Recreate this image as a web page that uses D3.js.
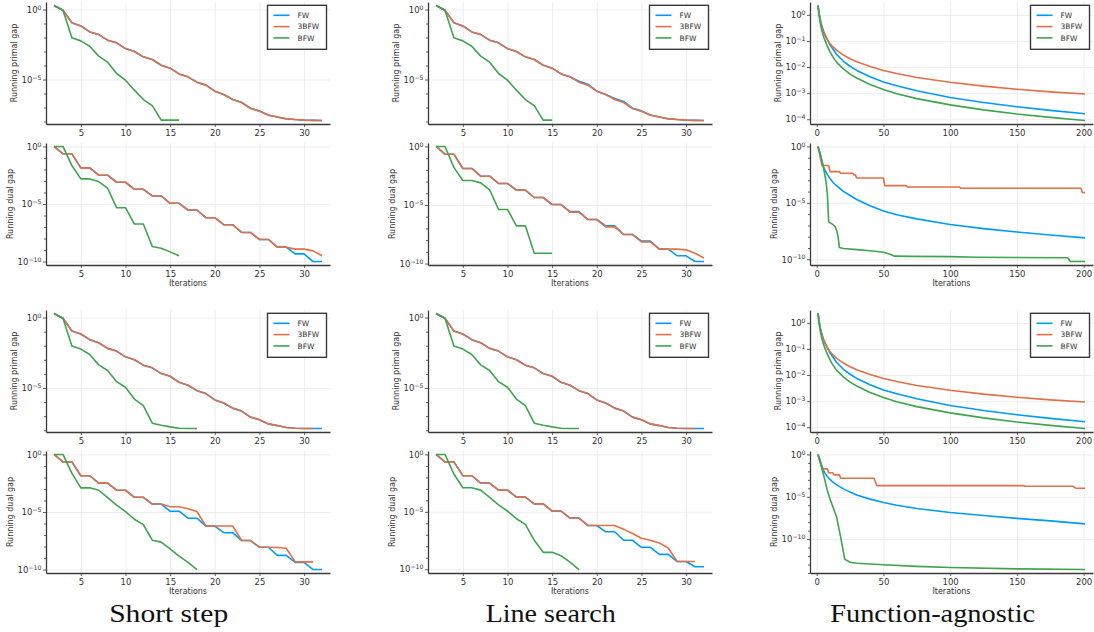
<!DOCTYPE html>
<html>
<head>
<meta charset="utf-8">
<script src="https://cdn.jsdelivr.net/npm/d3@7"></script>
<style>
    body { margin: 0; background: #fff; }
</style>
</head>
<body>
<svg id="chart" width="1094" height="632"></svg>
<script>
// values are log10 of the gap
const seriesNames = ['FW', '3BFW', 'BFW'];
const seriesColors = ['#009af9', '#e26f46', '#3ea44e'];
const columnTitles = ['Short step', 'Line search', 'Function-agnostic'];

const iterations = d3.range(2, 33);
const shortXTicks = [5, 10, 15, 20, 25, 30];
const agnosticXTicks = [0, 50, 100, 150, 200];
const primalMajor = [0, -5];
const dualMajor = [0, -5, -10];
const agnosticPrimalMajor = [0, -1, -2, -3, -4];

// Short step, first pair
const shortPrimalFW_1 = [0.29, -0.05, -0.95, -1.17, -1.6, -1.79, -2.19, -2.38, -2.79, -3.0, -3.38, -3.57, -3.98, -4.19, -4.6, -4.81, -5.19, -5.4, -5.83, -6.07, -6.43, -6.64, -7.05, -7.24, -7.53, -7.67, -7.8, -7.86, -7.9, -7.92, -7.93];
const shortPrimal3BFW_1 = [0.29, -0.05, -0.95, -1.17, -1.6, -1.79, -2.19, -2.38, -2.79, -3.0, -3.38, -3.57, -3.98, -4.19, -4.6, -4.81, -5.19, -5.4, -5.83, -6.07, -6.43, -6.64, -7.07, -7.26, -7.55, -7.67, -7.81, -7.86, -7.9, -7.92, -7.93];
const shortPrimalBFW_1 = [0.29, -0.05, -2.02, -2.24, -2.62, -3.33, -3.76, -4.57, -5.05, -5.76, -6.43, -6.86, -7.9, -7.9, -7.9];
const shortDualFW_1 = [0, -0.64, -0.64, -1.86, -1.86, -2.5, -2.5, -3.11, -3.11, -3.72, -3.72, -4.3, -4.3, -4.94, -4.94, -5.52, -5.52, -6.19, -6.19, -6.8, -6.8, -7.47, -7.47, -8.08, -8.08, -8.75, -8.75, -9.33, -9.33, -10, -10];
const shortDual3BFW_1 = [0, -0.64, -0.64, -1.86, -1.86, -2.5, -2.5, -3.11, -3.11, -3.72, -3.72, -4.3, -4.3, -4.94, -4.94, -5.52, -5.52, -6.19, -6.19, -6.8, -6.8, -7.47, -7.47, -8.08, -8.08, -8.75, -8.75, -8.92, -8.92, -9.07, -9.5];
const shortDualBFW_1 = [0, 0, -1.66, -2.82, -2.82, -3.05, -3.63, -5.32, -5.32, -6.74, -6.74, -8.69, -8.84, -9.16, -9.5];

// Line search, first pair
const lineSearchPrimalFW_1 = [0.29, -0.05, -0.95, -1.17, -1.6, -1.79, -2.19, -2.38, -2.79, -3.0, -3.38, -3.57, -3.98, -4.19, -4.6, -4.81, -5.12, -5.33, -5.83, -6.07, -6.36, -6.57, -7.05, -7.24, -7.53, -7.67, -7.8, -7.86, -7.9, -7.92, -7.93];
const lineSearchPrimal3BFW_1 = [0.29, -0.05, -0.95, -1.17, -1.6, -1.79, -2.19, -2.38, -2.79, -3.0, -3.38, -3.57, -3.98, -4.19, -4.6, -4.81, -5.19, -5.4, -5.83, -6.07, -6.43, -6.64, -7.07, -7.26, -7.55, -7.67, -7.81, -7.86, -7.9, -7.92, -7.93];
const lineSearchPrimalBFW_1 = [0.29, -0.05, -2.02, -2.24, -2.62, -3.33, -3.76, -4.57, -5.05, -5.76, -6.43, -6.86, -7.9, -7.9];
const lineSearchDualFW_1 = [0, -0.66, -0.66, -1.88, -1.88, -2.54, -2.54, -3.16, -3.16, -3.73, -3.73, -4.36, -4.36, -4.96, -4.96, -5.56, -5.56, -6.24, -6.24, -6.78, -6.78, -7.52, -7.52, -8.09, -8.09, -8.77, -8.77, -9.34, -9.34, -9.83, -9.83];
const lineSearchDual3BFW_1 = [0, -0.66, -0.66, -1.88, -1.88, -2.54, -2.54, -3.16, -3.16, -3.73, -3.73, -4.36, -4.36, -4.96, -4.96, -5.61, -5.61, -6.24, -6.24, -6.87, -6.87, -7.52, -7.52, -8.15, -8.15, -8.77, -8.77, -8.77, -8.83, -9.12, -9.52];
const lineSearchDualBFW_1 = [0, 0, -1.79, -2.91, -2.91, -3.11, -3.7, -5.38, -5.38, -6.78, -6.78, -9.12, -9.12, -9.12];

// Short step, second pair
const shortPrimalFW_2 = [0.29, -0.05, -0.95, -1.17, -1.57, -1.79, -2.19, -2.38, -2.79, -3.0, -3.38, -3.57, -3.98, -4.17, -4.6, -4.81, -5.19, -5.4, -5.85, -6.07, -6.43, -6.64, -7.07, -7.26, -7.55, -7.67, -7.81, -7.86, -7.88, -7.88, -7.88];
const shortPrimal3BFW_2 = [0.29, -0.05, -0.95, -1.17, -1.57, -1.79, -2.19, -2.38, -2.79, -3.0, -3.38, -3.57, -3.98, -4.17, -4.6, -4.81, -5.19, -5.4, -5.85, -6.07, -6.43, -6.64, -7.07, -7.26, -7.55, -7.67, -7.81, -7.86, -7.88, -7.88];
const shortPrimalBFW_2 = [0.29, -0.05, -2.02, -2.24, -2.62, -3.36, -3.76, -4.55, -4.95, -5.79, -6.26, -7.5, -7.64, -7.76, -7.86, -7.88, -7.88];
const shortDualFW_2 = [0, -0.65, -0.65, -1.85, -1.85, -2.49, -2.49, -3.11, -3.11, -3.72, -3.72, -4.31, -4.31, -4.93, -4.93, -5.54, -5.54, -6.22, -6.22, -6.8, -6.8, -7.48, -7.48, -8.06, -8.06, -8.77, -8.77, -9.38, -9.38, -10, -10];
const shortDual3BFW_2 = [0, -0.65, -0.65, -1.85, -1.85, -2.49, -2.49, -3.11, -3.11, -3.72, -3.72, -4.31, -4.31, -4.55, -4.55, -4.72, -4.96, -6.22, -6.22, -6.22, -6.22, -7.48, -7.48, -8.06, -8.06, -8.08, -8.15, -9.33, -9.33, -9.33];
const shortDualBFW_2 = [0, 0, -1.64, -2.9, -2.9, -3.11, -3.75, -4.4, -4.96, -5.63, -6.1, -7.45, -7.62, -8.21, -8.83, -9.38, -10];

// Line search, second pair
const lineSearchPrimalFW_2 = [0.29, -0.05, -0.95, -1.17, -1.57, -1.79, -2.19, -2.38, -2.79, -3.0, -3.38, -3.57, -3.98, -4.17, -4.6, -4.81, -5.19, -5.4, -5.85, -6.07, -6.43, -6.64, -7.07, -7.26, -7.55, -7.67, -7.81, -7.86, -7.88, -7.88, -7.88];
const lineSearchPrimal3BFW_2 = [0.29, -0.05, -0.95, -1.17, -1.57, -1.79, -2.19, -2.38, -2.79, -3.0, -3.38, -3.57, -3.98, -4.17, -4.6, -4.81, -5.19, -5.4, -5.85, -6.07, -6.43, -6.64, -7.07, -7.26, -7.55, -7.67, -7.81, -7.86, -7.88, -7.88];
const lineSearchPrimalBFW_2 = [0.29, -0.05, -2.02, -2.24, -2.62, -3.36, -3.76, -4.55, -4.95, -5.79, -6.26, -7.5, -7.64, -7.76, -7.86, -7.88, -7.88];
const lineSearchDualFW_2 = [0, -0.65, -0.65, -1.85, -1.85, -2.49, -2.49, -3.11, -3.11, -3.72, -3.72, -4.31, -4.31, -4.93, -4.93, -5.54, -5.54, -6.19, -6.19, -6.74, -6.74, -7.48, -7.48, -8.09, -8.09, -8.71, -8.71, -9.33, -9.33, -9.79, -9.79];
const lineSearchDual3BFW_2 = [0, -0.65, -0.65, -1.85, -1.85, -2.49, -2.49, -3.11, -3.11, -3.72, -3.72, -4.31, -4.31, -4.93, -4.93, -5.54, -5.54, -6.19, -6.19, -6.19, -6.19, -6.51, -6.89, -7.3, -7.48, -7.71, -8.15, -9.33, -9.33, -9.33];
const lineSearchDualBFW_2 = [0, 0, -1.7, -2.9, -2.9, -3.11, -3.75, -4.4, -4.93, -5.6, -6.1, -7.48, -8.53, -8.53, -8.83, -9.38, -10.03];

// Function-agnostic (same primal curves in both pairs)
const agnosticIters = [1, 2, 3, 4, 5, 6, 8, 10, 12, 15, 20, 25, 30, 40, 50, 60, 75, 100, 125, 150, 175, 201];
const agnosticPrimalFW = [0.36, 0.02, -0.25, -0.45, -0.6, -0.73, -0.95, -1.15, -1.3, -1.52, -1.78, -1.97, -2.13, -2.37, -2.57, -2.72, -2.91, -3.17, -3.36, -3.52, -3.66, -3.79];
const agnosticPrimal3BFW = [0.36, -0.02, -0.3, -0.5, -0.64, -0.76, -0.96, -1.1, -1.22, -1.36, -1.54, -1.68, -1.8, -1.98, -2.13, -2.25, -2.4, -2.58, -2.73, -2.85, -2.95, -3.03];
const agnosticPrimalBFW = [0.36, -0.1, -0.4, -0.62, -0.8, -0.95, -1.2, -1.42, -1.6, -1.82, -2.07, -2.27, -2.42, -2.67, -2.86, -3.02, -3.21, -3.45, -3.64, -3.8, -3.93, -4.05];

const agnosticDualFW_1 = [0, -0.35, -0.8, -1.3, -1.75, -2.05, -2.5, -2.85, -3.15, -3.5, -3.98, -4.35, -4.7, -5.25, -5.72, -6.05, -6.42, -6.92, -7.28, -7.58, -7.85, -8.1];
const agnosticDual3BFWIters_1 = [1, 4, 9, 10, 17, 18, 27, 28, 29, 30, 50, 51, 67, 68, 107, 108, 198, 199, 201];
const agnosticDual3BFW_1 = [0, -1.69, -1.69, -2.23, -2.23, -2.37, -2.37, -2.52, -2.52, -2.79, -2.79, -3.47, -3.47, -3.59, -3.59, -3.71, -3.71, -4.07, -4.1];
const agnosticDualBFWIters_1 = [1, 3, 5, 7, 8, 9, 10, 12, 14, 15, 16, 17, 20, 30, 40, 50, 55, 58, 70, 100, 120, 150, 188, 190, 201];
const agnosticDualBFW_1 = [0, -0.9, -1.84, -3.1, -4.2, -6.68, -6.75, -6.9, -7.15, -7.45, -7.95, -8.96, -9.05, -9.14, -9.25, -9.38, -9.55, -9.72, -9.74, -9.76, -9.82, -9.84, -9.87, -10.2, -10.2];

const agnosticDualFW_2 = [0, -0.4, -0.91, -1.4, -1.85, -2.15, -2.6, -2.95, -3.25, -3.6, -4.07, -4.45, -4.78, -5.28, -5.68, -6.0, -6.38, -6.86, -7.22, -7.55, -7.85, -8.2];
const agnosticDual3BFWIters_2 = [1, 4, 8, 9, 12, 13, 17, 18, 43, 45, 155, 156, 192, 194, 201];
const agnosticDual3BFW_2 = [0, -1.7, -1.7, -2.17, -2.17, -2.41, -2.41, -2.81, -2.81, -3.68, -3.68, -3.75, -3.75, -3.99, -3.99];
const agnosticDualBFWIters_2 = [1, 3, 5, 8, 10, 13, 15, 18, 21, 25, 30, 50, 75, 100, 150, 201];
const agnosticDualBFW_2 = [0, -1.1, -2.3, -4.27, -5.26, -6.56, -7.43, -9.8, -12.37, -12.73, -12.85, -13.04, -13.22, -13.36, -13.52, -13.6];

const GRID_COLOR = '#e9e9e9';
const AXIS_COLOR = '#3a3a3a';
const TEXT_COLOR = '#333';
const FONT = '"DejaVu Sans", sans-serif';

const columnLeft = [0, 382, 764];
const rowTop = [2, 143, 310, 451];
const plotLeft = 46;
const plotWidth = 284;
const plotHeight = 122;

let svg = d3.select('#chart');

function onIters(values) {
    return iterations.slice(0, values.length);
}

function makeSeries(xs, vs) {
    return vs.map((v, i) => ({ name: seriesNames[i], color: seriesColors[i], x: xs[i], v: v }));
}

function expLabel(text, e) {
    text.text(null);
    text.append('tspan').text('10');
    text.append('tspan')
        .attr('dy', '-0.5em')
        .attr('font-size', '6.2px')
        .text(e === 0 ? '0' : '\u2212' + Math.abs(e));
}

function drawPanel(p) {
    let allX = p.series.flatMap(s => s.x);
    let allV = p.series.flatMap(s => s.v);
    let xPad = (d3.max(allX) - d3.min(allX)) * 0.03;
    let vPad = (d3.max(allV) - d3.min(allV)) * 0.03;
    let vLow = d3.min(allV) - vPad;
    let vHigh = d3.max(allV) + vPad;

    let x = d3.scaleLinear()
        .domain([d3.min(allX) - xPad, d3.max(allX) + xPad])
        .range([p.left, p.left + p.width]);
    let y = d3.scaleLog()
        .domain([10 ** vLow, 10 ** vHigh])
        .range([p.top + p.height, p.top]);

    let g = svg.append('g');
    let bottom = p.top + p.height;

    // grid
    g.append('g')
        .attr('transform', `translate(0,${bottom})`)
        .call(d3.axisBottom(x).tickValues(p.xTicks).tickSize(-p.height).tickFormat(''))
        .call(a => a.select('.domain').remove())
        .selectAll('line').attr('stroke', GRID_COLOR).attr('stroke-width', 0.8);
    g.append('g')
        .attr('transform', `translate(${p.left},0)`)
        .call(d3.axisLeft(y).tickValues(p.yMajor.map(e => 10 ** e)).tickSize(-p.width).tickFormat(''))
        .call(a => a.select('.domain').remove())
        .selectAll('line').attr('stroke', GRID_COLOR).attr('stroke-width', 0.8);

    // minor decade ticks
    let step = p.yMajor.length > 1 ? Math.abs(p.yMajor[1] - p.yMajor[0]) : 1;
    if (step > 1) {
        let minors = d3.range(Math.ceil(vLow), Math.floor(vHigh) + 1).filter(e => !p.yMajor.includes(e));
        g.append('g')
            .attr('transform', `translate(${p.left},0)`)
            .call(d3.axisLeft(y).tickValues(minors.map(e => 10 ** e)).tickSize(2).tickFormat(''))
            .call(a => a.select('.domain').remove())
            .selectAll('line').attr('stroke', AXIS_COLOR).attr('stroke-width', 0.8);
    }

    // series
    let line = d3.line()
        .x(d => x(d[0]))
        .y(d => y(10 ** d[1]));
    p.series.forEach(s => {
        g.append('path')
            .datum(d3.zip(s.x, s.v))
            .attr('d', line)
            .attr('fill', 'none')
            .attr('stroke', s.color)
            .attr('stroke-width', 1.6)
            .attr('stroke-linejoin', 'round');
    });

    // axes
    let xAxis = g.append('g')
        .attr('transform', `translate(0,${bottom})`)
        .call(d3.axisBottom(x).tickValues(p.xTicks).tickSize(3).tickSizeOuter(0).tickPadding(3));
    let yAxis = g.append('g')
        .attr('transform', `translate(${p.left},0)`)
        .call(d3.axisLeft(y).tickValues(p.yMajor.map(e => 10 ** e)).tickSize(3).tickSizeOuter(0).tickPadding(1.5));
    [xAxis, yAxis].forEach(a => {
        a.attr('font-family', FONT).attr('font-size', '8.5px');
        a.select('.domain').attr('stroke', AXIS_COLOR).attr('stroke-width', 1.3);
        a.selectAll('.tick line').attr('stroke', AXIS_COLOR).attr('stroke-width', 0.8);
        a.selectAll('.tick text').attr('fill', TEXT_COLOR);
    });
    yAxis.selectAll('.tick text').each(function (d) {
        expLabel(d3.select(this), Math.round(Math.log10(d)));
    });

    // axis titles
    g.append('text')
        .attr('transform', `translate(${p.left + p.yLabelOffset},${p.top + p.height / 2}) rotate(-90)`)
        .attr('dy', '0.35em')
        .attr('text-anchor', 'middle')
        .attr('font-family', FONT)
        .attr('font-size', '8px')
        .attr('fill', TEXT_COLOR)
        .text(p.yLabel);
    if (p.xLabel) {
        g.append('text')
            .attr('x', p.left + p.width / 2)
            .attr('y', bottom + 21)
            .attr('text-anchor', 'middle')
            .attr('font-family', FONT)
            .attr('font-size', '8px')
            .attr('fill', TEXT_COLOR)
            .text(p.xLabel);
    }

    // legend
    if (p.legend) {
        let lw = 59, lh = 44;
        let lx = p.left + p.width - 3.5 - lw;
        let ly = p.top + 3.3;
        let lg = g.append('g');
        lg.append('rect')
            .attr('x', lx).attr('y', ly).attr('width', lw).attr('height', lh)
            .attr('fill', '#fff')
            .attr('stroke', AXIS_COLOR)
            .attr('stroke-width', 1.4);
        p.series.forEach((s, i) => {
            let cy = ly + 10 + i * 11.3;
            lg.append('line')
                .attr('x1', lx + 6).attr('x2', lx + 22)
                .attr('y1', cy).attr('y2', cy)
                .attr('stroke', s.color)
                .attr('stroke-width', 1.6);
            lg.append('text')
                .attr('x', lx + 30).attr('y', cy)
                .attr('dy', '0.35em')
                .attr('font-family', FONT)
                .attr('font-size', '7.5px')
                .attr('fill', TEXT_COLOR)
                .text(s.name);
        });
    }
}

let columns = [
    {
        xTicks: shortXTicks,
        primal: [
            makeSeries([onIters(shortPrimalFW_1), onIters(shortPrimal3BFW_1), onIters(shortPrimalBFW_1)], [shortPrimalFW_1, shortPrimal3BFW_1, shortPrimalBFW_1]),
            makeSeries([onIters(shortPrimalFW_2), onIters(shortPrimal3BFW_2), onIters(shortPrimalBFW_2)], [shortPrimalFW_2, shortPrimal3BFW_2, shortPrimalBFW_2]),
        ],
        dual: [
            makeSeries([onIters(shortDualFW_1), onIters(shortDual3BFW_1), onIters(shortDualBFW_1)], [shortDualFW_1, shortDual3BFW_1, shortDualBFW_1]),
            makeSeries([onIters(shortDualFW_2), onIters(shortDual3BFW_2), onIters(shortDualBFW_2)], [shortDualFW_2, shortDual3BFW_2, shortDualBFW_2]),
        ],
        primalMajor: primalMajor,
    },
    {
        xTicks: shortXTicks,
        primal: [
            makeSeries([onIters(lineSearchPrimalFW_1), onIters(lineSearchPrimal3BFW_1), onIters(lineSearchPrimalBFW_1)], [lineSearchPrimalFW_1, lineSearchPrimal3BFW_1, lineSearchPrimalBFW_1]),
            makeSeries([onIters(lineSearchPrimalFW_2), onIters(lineSearchPrimal3BFW_2), onIters(lineSearchPrimalBFW_2)], [lineSearchPrimalFW_2, lineSearchPrimal3BFW_2, lineSearchPrimalBFW_2]),
        ],
        dual: [
            makeSeries([onIters(lineSearchDualFW_1), onIters(lineSearchDual3BFW_1), onIters(lineSearchDualBFW_1)], [lineSearchDualFW_1, lineSearchDual3BFW_1, lineSearchDualBFW_1]),
            makeSeries([onIters(lineSearchDualFW_2), onIters(lineSearchDual3BFW_2), onIters(lineSearchDualBFW_2)], [lineSearchDualFW_2, lineSearchDual3BFW_2, lineSearchDualBFW_2]),
        ],
        primalMajor: primalMajor,
    },
    {
        xTicks: agnosticXTicks,
        primal: [
            makeSeries([agnosticIters, agnosticIters, agnosticIters], [agnosticPrimalFW, agnosticPrimal3BFW, agnosticPrimalBFW]),
            makeSeries([agnosticIters, agnosticIters, agnosticIters], [agnosticPrimalFW, agnosticPrimal3BFW, agnosticPrimalBFW]),
        ],
        dual: [
            makeSeries([agnosticIters, agnosticDual3BFWIters_1, agnosticDualBFWIters_1], [agnosticDualFW_1, agnosticDual3BFW_1, agnosticDualBFW_1]),
            makeSeries([agnosticIters, agnosticDual3BFWIters_2, agnosticDualBFWIters_2], [agnosticDualFW_2, agnosticDual3BFW_2, agnosticDualBFW_2]),
        ],
        primalMajor: agnosticPrimalMajor,
    },
];

columns.forEach((col, c) => {
    let left = columnLeft[c] + plotLeft;
    let width = c == 2 ? plotWidth - 1 : plotWidth;
    [0, 1].forEach(pair => {
        drawPanel({
            left: left, top: rowTop[pair * 2], width: width, height: plotHeight,
            series: col.primal[pair], xTicks: col.xTicks, yMajor: col.primalMajor,
            yLabel: 'Running primal gap', yLabelOffset: -32, legend: true,
        });
        drawPanel({
            left: left, top: rowTop[pair * 2 + 1], width: width, height: plotHeight,
            series: col.dual[pair], xTicks: col.xTicks, yMajor: dualMajor,
            yLabel: 'Running dual gap', yLabelOffset: -36, xLabel: 'Iterations',
        });
    });

    svg.append('text')
        .attr('x', columnLeft[c] + 168.7)
        .attr('y', 621.5)
        .attr('text-anchor', 'middle')
        .attr('font-family', '"Liberation Serif", serif')
        .attr('font-size', '25px')
        .attr('textLength', [119, 130, 205][c])
        .attr('lengthAdjust', 'spacingAndGlyphs')
        .attr('fill', '#111')
        .text(columnTitles[c]);
});
</script>
</body>
</html>
